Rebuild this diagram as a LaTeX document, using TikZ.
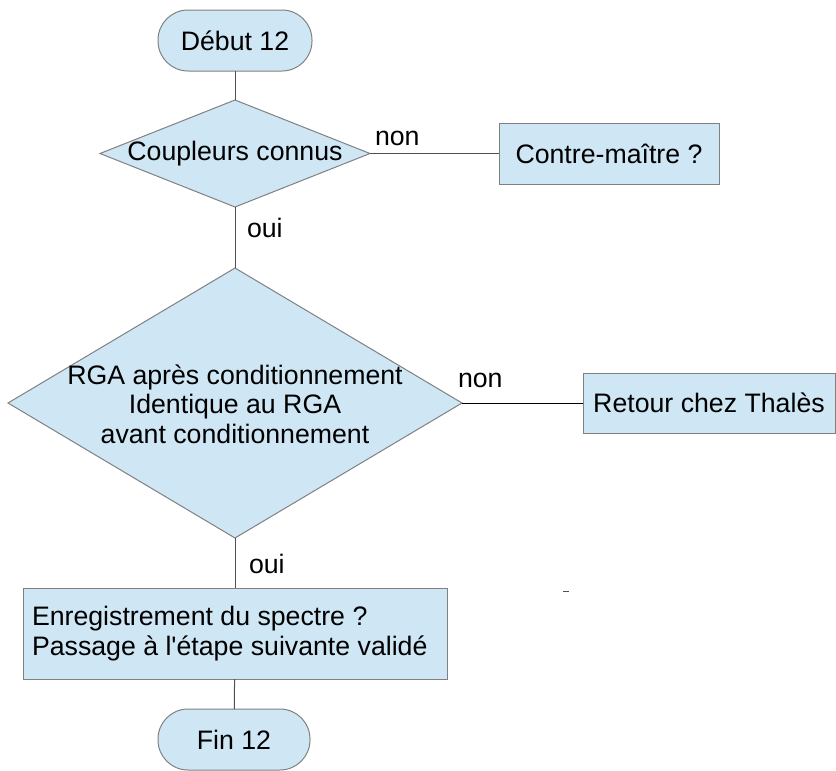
\documentclass[tikz,border=0pt]{standalone}
\usepackage{fontspec}
\setmainfont{Liberation Sans}[Ligatures=TeXOff]
\usetikzlibrary{shapes.geometric}
\definecolor{boxfill}{HTML}{CFE7F5}
\definecolor{boxline}{HTML}{808080}
\definecolor{connc}{HTML}{505050}
\begin{document}
\begin{tikzpicture}[x=1pt,y=-1pt,
  every node/.style={font=\fontsize{26.7}{29.5}\selectfont, inner sep=0pt, outer sep=0pt},
  term/.style={draw=boxline, fill=boxfill, line width=1pt, rectangle, rounded corners=30pt},
  proc/.style={draw=boxline, fill=boxfill, line width=1pt, rectangle},
  decision/.style={draw=boxline, fill=boxfill, line width=1pt, diamond},
  conn/.style={draw=connc, line width=1pt},
  lbl/.style={anchor=base west}]
\useasboundingbox (0,0) rectangle (836,771);
% shapes
\node[term, minimum width=154pt, minimum height=61pt] (debut) at (235,40.5) {Début 12};
\node[decision, minimum width=270pt, minimum height=107pt] (d1) at (235,153.5) {};
\node (d1t) at (235,154) {Coupleurs connus};
\node[proc, minimum width=220pt, minimum height=61pt] (cm) at (609,153.5) {Contre-maître ?};
\node[decision, minimum width=454pt, minimum height=270pt] (d2) at (235,403) {};
\node[align=center] (d2t) at (235,404) {RGA après conditionnement\\Identique au RGA\\avant conditionnement};
\node[proc, minimum width=252pt, minimum height=60pt] (ret) at (709,403) {Retour chez Thalès};
\node[proc, minimum width=424pt, minimum height=91pt] (enr) at (235,633.5) {};
\node[align=left, anchor=west] (enrt) at (32,633.5) {Enregistrement du spectre ?\\Passage à l'étape suivante validé};
\node[term, minimum width=152pt, minimum height=61pt] (fin) at (234,739.5) {Fin 12};
% connectors
\draw[conn] (debut) -- (d1);
\draw[conn] (d1.east) -- (cm.west);
\draw[conn] (d1) -- (d2);
\draw[conn, draw=black] (d2.east) -- (ret.west);
\draw[conn] (d2) -- (enr);
\draw[conn] (enr) -- (fin);
% labels
\node[lbl] (non1) at (375,145) {non};
\node[lbl] (oui1) at (247,237) {oui};
\node[lbl] (non2) at (458,387) {non};
\node[lbl] (oui2) at (249,573) {oui};
% stray mark
\coordinate (m1) at (563,591);
\coordinate (m2) at (569,591);
\draw[draw=connc, line width=1pt] (m1) -- (m2);
\end{tikzpicture}
\end{document}
